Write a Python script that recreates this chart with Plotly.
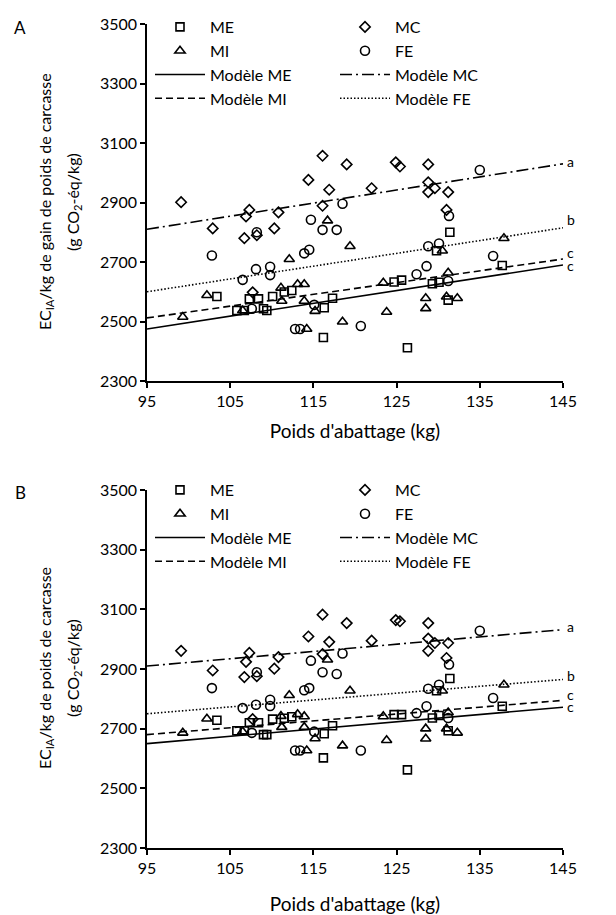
import plotly.graph_objects as go

# ---------------- data ----------------
X_TICKS = [95, 105, 115, 125, 135, 145]
Y_TICKS = [2300, 2500, 2700, 2900, 3100, 3300, 3500]

# ME (squares)
me_x = [103.4, 105.8, 106.7, 107.3, 108.4, 109.0, 109.4, 110.1, 111.5, 112.4,
        116.3, 117.3, 116.2, 124.7, 125.6, 126.3, 129.3, 130.1, 129.8, 131.4,
        131.2, 137.7]
me_a = [2584, 2537, 2537, 2576, 2576, 2543, 2537, 2584, 2599, 2604,
        2546, 2578, 2446, 2633, 2639, 2412, 2627, 2632, 2738, 2800,
        2572, 2688]
me_b = [2728, 2693, 2693, 2720, 2720, 2680, 2680, 2732, 2735, 2740,
        2683, 2710, 2602, 2747, 2747, 2562, 2736, 2744, 2827, 2868,
        2693, 2775]

# MI (triangles)
mi_x = [99.3, 102.2, 106.5, 111.1, 111.2, 112.1, 113.1, 113.9, 113.9, 114.2,
        115.2, 116.7, 118.5, 119.4, 123.4, 123.8, 128.5, 128.5, 130.5, 131.0,
        131.2, 132.3, 137.9]
mi_a = [2515, 2588, 2537, 2613, 2569, 2709, 2625, 2625, 2569, 2475,
        2535, 2839, 2499, 2753, 2630, 2532, 2578, 2544, 2738, 2583,
        2664, 2578, 2780]
mi_b = [2686, 2733, 2690, 2742, 2705, 2812, 2748, 2741, 2705, 2627,
        2667, 2931, 2643, 2827, 2741, 2661, 2700, 2666, 2827, 2700,
        2754, 2686, 2847]

# MC (diamonds)
mc_x = [99.1, 102.9, 106.7, 106.9, 107.3, 107.7, 108.2, 110.3, 110.8, 114.4,
        116.1, 116.1, 116.9, 119.0, 122.0, 124.9, 125.4, 128.8, 128.8, 129.6,
        128.8, 131.2, 131.0]
mc_a = [2901, 2813, 2780, 2853, 2875, 2598, 2790, 2813, 2867, 2976,
        3057, 2889, 2943, 3028, 2948, 3035, 3021, 3028, 2968, 2948,
        2935, 2935, 2875]
mc_b = [2961, 2895, 2873, 2924, 2954, 2732, 2876, 2901, 2940, 3009,
        3082, 2950, 2991, 3054, 2995, 3064, 3060, 3054, 3002, 2987,
        2961, 2987, 2937]

# FE (circles)
fe_x = [102.8, 106.5, 107.6, 108.1, 108.2, 109.8, 109.8, 112.8, 113.4, 113.9,
        114.5, 114.7, 115.1, 116.1, 117.8, 118.5, 120.7, 127.4, 128.6, 128.8,
        130.1, 131.2, 131.3, 135.0, 136.6]
fe_a = [2722, 2640, 2543, 2676, 2800, 2684, 2656, 2475, 2475, 2729,
        2741, 2842, 2556, 2808, 2808, 2896, 2485, 2659, 2686, 2753,
        2762, 2636, 2855, 3009, 2720]
fe_b = [2836, 2769, 2686, 2780, 2889, 2797, 2776, 2627, 2627, 2829,
        2836, 2928, 2690, 2889, 2883, 2952, 2627, 2752, 2775, 2834,
        2847, 2736, 2915, 3028, 2803]

# fitted models (end points at 95 and 145 kg)
model_x = [95, 145]
model_me_a = [2475, 2690]
model_mi_a = [2512, 2710]
model_fe_a = [2600, 2815]
model_mc_a = [2810, 3030]
model_me_b = [2650, 2772]
model_mi_b = [2680, 2795]
model_fe_b = [2750, 2865]
model_mc_b = [2910, 3032]

sig_letters = ["a", "b", "c", "c"]
sig_y_a = [3037, 2843, 2731, 2688]
sig_y_b = [3042, 2878, 2815, 2774]

# ---------------- layout helpers (page body has an 8 px margin) ----------------
OFF = 8
W, H = 616 - OFF, 915 - OFF


def px(p):
    return (p - OFF) / W


def py(p):
    return 1 - (p - OFF) / H


FONT = "Lato, 'Open Sans', sans-serif"
fig = go.Figure()

marker_series = {
    "ME": (me_x, me_a, me_b, "square-open", 8),
    "MC": (mc_x, mc_a, mc_b, "diamond-open", 8),
    "MI": (mi_x, mi_a, mi_b, "triangle-up-open", 9),
    "FE": (fe_x, fe_a, fe_b, "circle-open", 9),
}
model_series = {
    "Modèle ME": (model_me_a, model_me_b, "solid"),
    "Modèle MC": (model_mc_a, model_mc_b, "12px,4px,2px,4px"),
    "Modèle MI": (model_mi_a, model_mi_b, "7px,4px"),
    "Modèle FE": (model_fe_a, model_fe_b, "1.5px,2px"),
}
# legend columns: left column then right column
legend_columns = [["ME", "MI", "Modèle ME", "Modèle MI"],
                  ["MC", "FE", "Modèle MC", "Modèle FE"]]

for panel, (xa, ya, leg) in enumerate([("x", "y", "legend"), ("x2", "y2", "legend2")]):
    for ci, col in enumerate(legend_columns):
        grp = f"{leg}_col{ci}"
        for name in col:
            if name in marker_series:
                sx, sa, sb, sym, size = marker_series[name]
                fig.add_trace(go.Scatter(
                    x=sx, y=sa if panel == 0 else sb, mode="markers", name=name,
                    xaxis=xa, yaxis=ya, legend=leg, legendgroup=grp,
                    marker=dict(symbol=sym, size=size, color="black",
                                line=dict(width=1.6, color="black")),
                ))
            else:
                ma, mb, dash = model_series[name]
                fig.add_trace(go.Scatter(
                    x=model_x, y=ma if panel == 0 else mb, mode="lines", name=name,
                    xaxis=xa, yaxis=ya, legend=leg, legendgroup=grp,
                    line=dict(color="black", width=1.6, dash=dash),
                ))

axis_common = dict(
    showline=True, linecolor="black", linewidth=1.5, ticks="outside", ticklen=5,
    tickwidth=1.5, tickcolor="black", showgrid=False, zeroline=False,
    tickfont=dict(family=FONT, size=16, color="black"),
)
xdom = [px(147), px(563)]
fig.update_layout(
    width=W, height=H, margin=dict(l=0, r=0, t=0, b=0, autoexpand=False),
    paper_bgcolor="white", plot_bgcolor="white",
    font=dict(family=FONT, size=16, color="black"),
    xaxis=dict(domain=xdom, range=[95, 145], tickvals=X_TICKS, anchor="y",
               title=dict(text="Poids d'abattage (kg)", standoff=16), **axis_common),
    yaxis=dict(domain=[py(381), py(24)], range=[2300, 3500], tickvals=Y_TICKS,
               anchor="x", **axis_common),
    xaxis2=dict(domain=xdom, range=[95, 145], tickvals=X_TICKS, anchor="y2",
                title=dict(text="Poids d'abattage (kg)", standoff=24), **axis_common),
    yaxis2=dict(domain=[py(848), py(490)], range=[2300, 3500], tickvals=Y_TICKS,
                anchor="x2", **axis_common),
    showlegend=True,
)
leg_common = dict(orientation="h", xanchor="left", yanchor="top", entrywidth=120,
                  entrywidthmode="pixels", itemwidth=50, bgcolor="rgba(0,0,0,0)",
                  font=dict(family=FONT, size=16, color="black"), traceorder="grouped",
                  tracegroupgap=6, itemclick=False, itemdoubleclick=False)
fig.update_layout(
    legend=dict(x=px(150), y=py(10), **leg_common),
    legend2=dict(x=px(150), y=py(473), **leg_common),
)

annotations = []
# panel labels
annotations.append(dict(text="A", x=px(20), y=py(28), xref="paper", yref="paper",
                        xanchor="center", yanchor="middle", showarrow=False, font=dict(size=17)))
annotations.append(dict(text="B", x=px(20), y=py(492), xref="paper", yref="paper",
                        xanchor="center", yanchor="middle", showarrow=False, font=dict(size=17)))
# y titles (two lines)
for yc, l1 in [(202, "EC<sub>IA</sub>/kg de gain de poids de carcasse"),
               (668, "EC<sub>IA</sub>/kg de poids de carcasse")]:
    annotations.append(dict(text=l1, x=px(45), y=py(yc), xref="paper", yref="paper",
                            xanchor="center", yanchor="middle",
                            textangle=-90, showarrow=False, font=dict(size=16)))
    annotations.append(dict(text="(g CO<sub>2</sub>-éq/kg)", x=px(73), y=py(yc),
                            xref="paper", yref="paper", xanchor="center", yanchor="middle",
                            textangle=-90, showarrow=False, font=dict(size=16)))
# significance letters
for xr, yr, ys in [("x", "y", sig_y_a), ("x2", "y2", sig_y_b)]:
    for t, yy in zip(sig_letters, ys):
        annotations.append(dict(text=t, x=145, y=yy, xref=xr, yref=yr, xanchor="left",
                                yanchor="middle", xshift=2, showarrow=False,
                                font=dict(size=14)))
fig.update_layout(annotations=annotations)

fig.write_html("out.html")
